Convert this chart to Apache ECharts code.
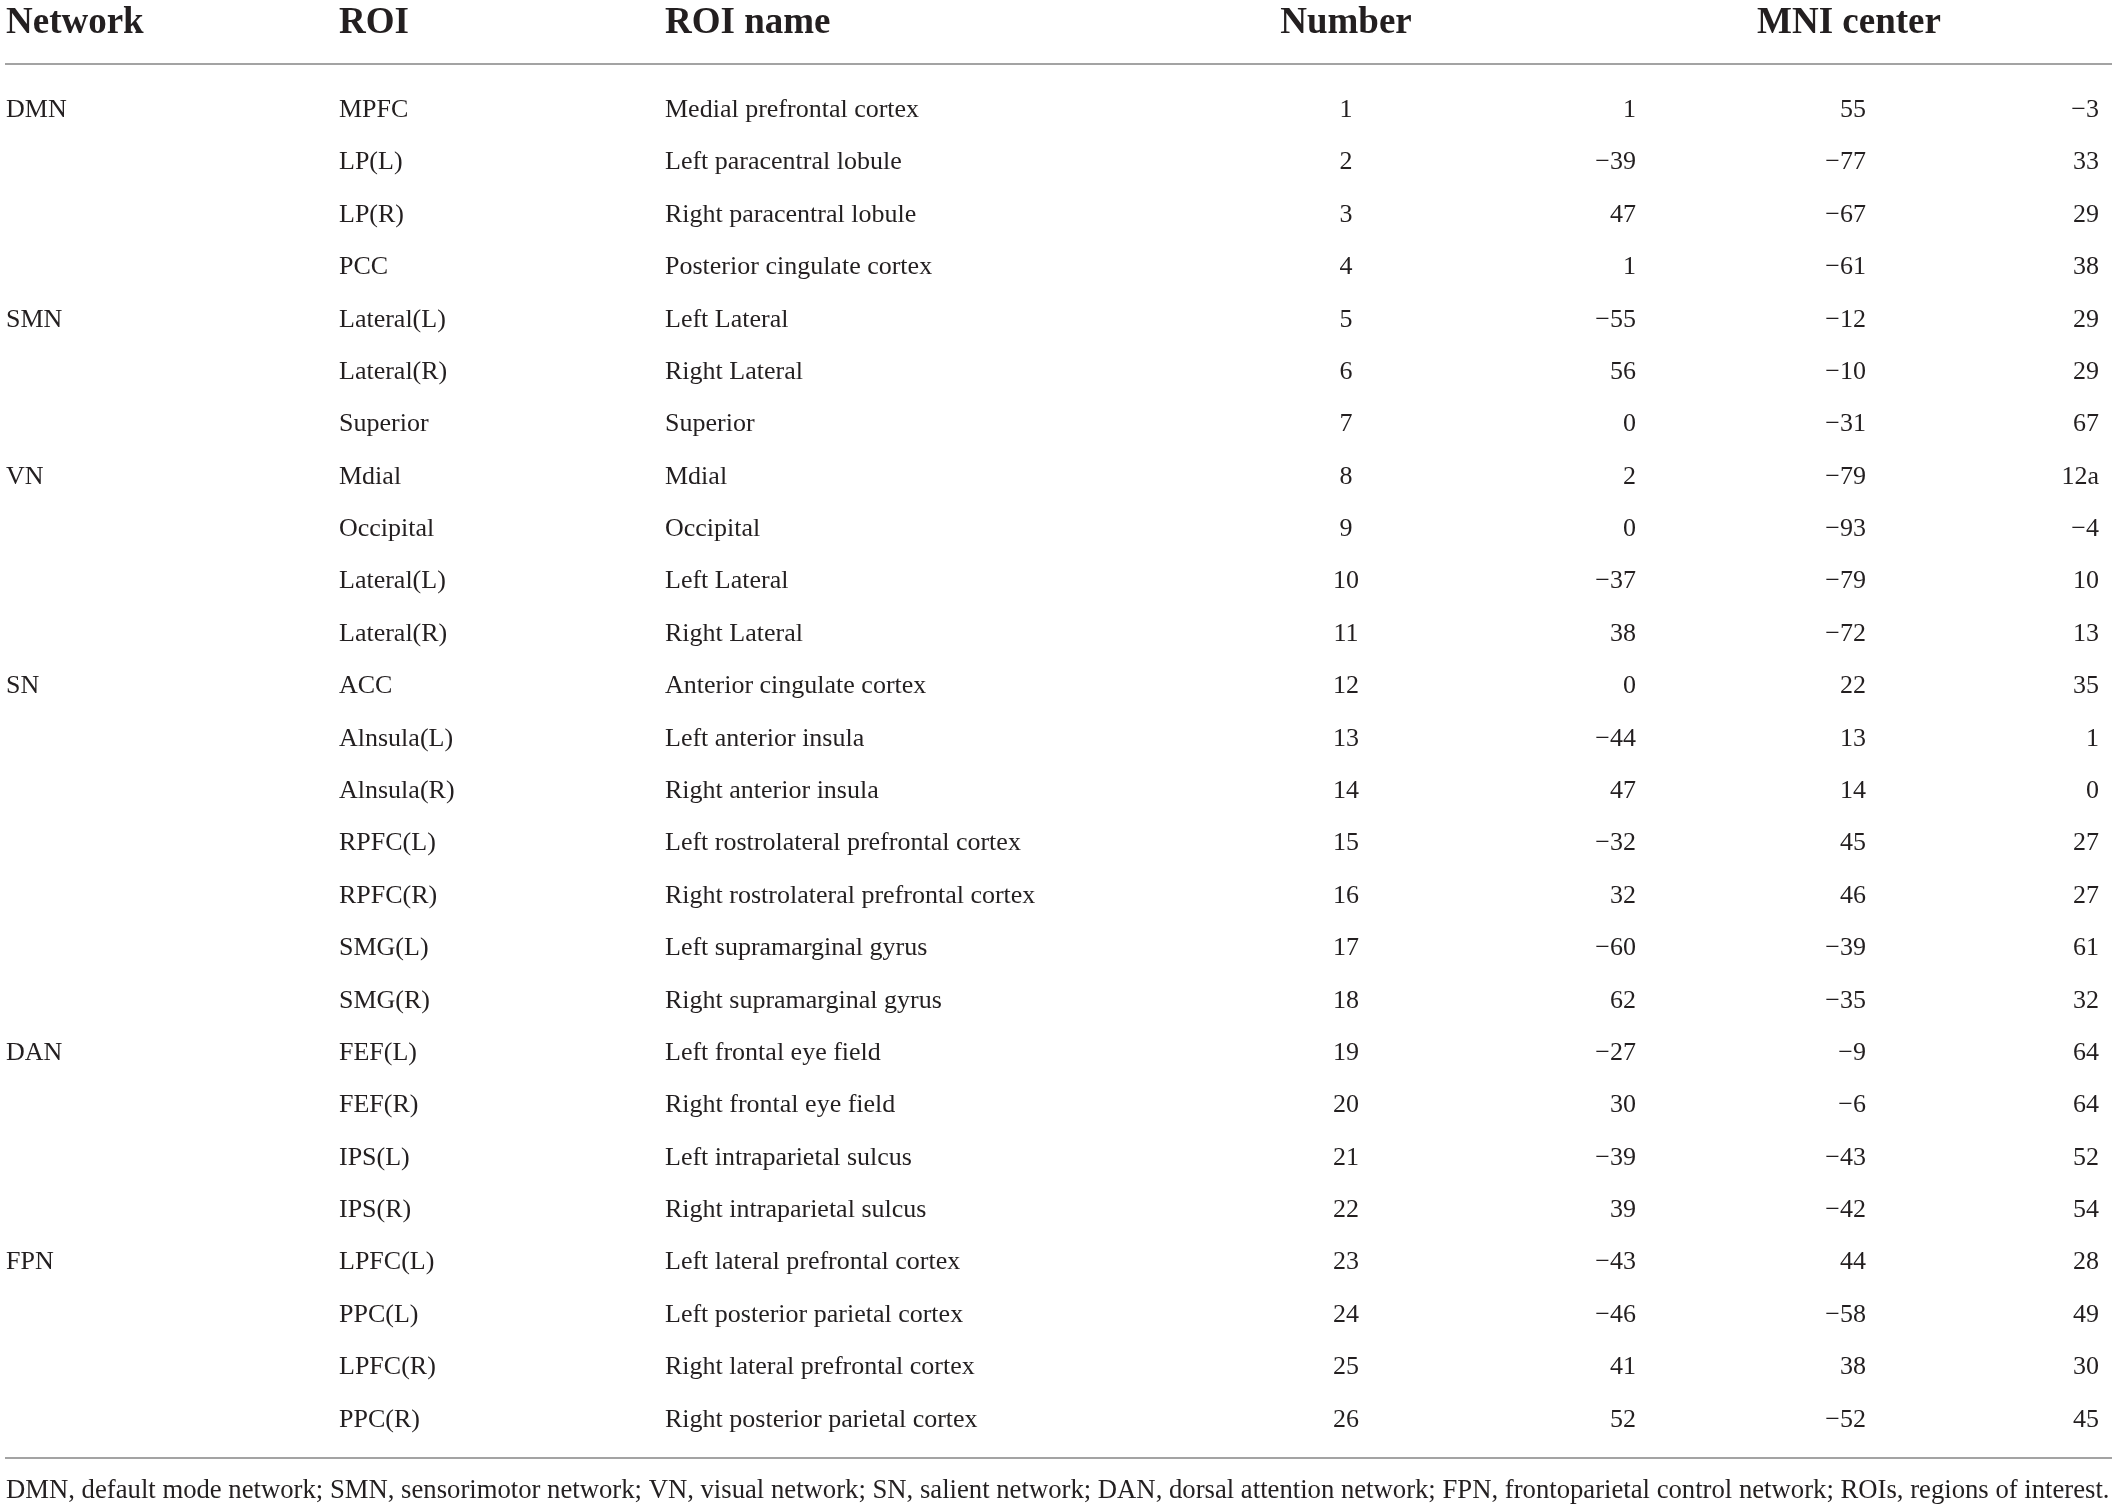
<!DOCTYPE html>
<html>
<head>
<meta charset="utf-8">
<title>ROI table</title>
<script src="https://cdn.jsdelivr.net/npm/echarts@6/dist/echarts.min.js"></script>
<style>
  html, body { margin: 0; padding: 0; background: #fff; }
  #chart { width: 2117px; height: 1511px; }
</style>
</head>
<body>
<div id="chart"></div>
<script>
// table contents
const headers = ['Network', 'ROI', 'ROI name', 'Number', 'MNI center'];

const networks = ['DMN', '', '', '', 'SMN', '', '', 'VN', '', '', '', 'SN', '', '', '', '', '', '',
  'DAN', '', '', '', 'FPN', '', '', ''];

const rois = ['MPFC', 'LP(L)', 'LP(R)', 'PCC', 'Lateral(L)', 'Lateral(R)', 'Superior', 'Mdial',
  'Occipital', 'Lateral(L)', 'Lateral(R)', 'ACC', 'Alnsula(L)', 'Alnsula(R)', 'RPFC(L)', 'RPFC(R)',
  'SMG(L)', 'SMG(R)', 'FEF(L)', 'FEF(R)', 'IPS(L)', 'IPS(R)', 'LPFC(L)', 'PPC(L)', 'LPFC(R)', 'PPC(R)'];

const roiNames = ['Medial prefrontal cortex', 'Left paracentral lobule', 'Right paracentral lobule',
  'Posterior cingulate cortex', 'Left Lateral', 'Right Lateral', 'Superior', 'Mdial', 'Occipital',
  'Left Lateral', 'Right Lateral', 'Anterior cingulate cortex', 'Left anterior insula',
  'Right anterior insula', 'Left rostrolateral prefrontal cortex', 'Right rostrolateral prefrontal cortex',
  'Left supramarginal gyrus', 'Right supramarginal gyrus', 'Left frontal eye field', 'Right frontal eye field',
  'Left intraparietal sulcus', 'Right intraparietal sulcus', 'Left lateral prefrontal cortex',
  'Left posterior parietal cortex', 'Right lateral prefrontal cortex', 'Right posterior parietal cortex'];

const numbers = [1, 2, 3, 4, 5, 6, 7, 8, 9, 10, 11, 12, 13, 14, 15, 16, 17, 18, 19, 20, 21, 22, 23, 24, 25, 26];

const mniX = [1, -39, 47, 1, -55, 56, 0, 2, 0, -37, 38, 0, -44, 47, -32, 32, -60, 62, -27, 30, -39, 39, -43, -46, 41, 52];
const mniY = [55, -77, -67, -61, -12, -10, -31, -79, -93, -79, -72, 22, 13, 14, 45, 46, -39, -35, -9, -6, -43, -42, 44, -58, 38, -52];
const mniZ = [-3, 33, 29, 38, 29, 29, 67, '12a', -4, 10, 13, 35, 1, 0, 27, 27, 61, 32, 64, 64, 52, 54, 28, 49, 30, 45];

const footnote = 'DMN, default mode network; SMN, sensorimotor network; VN, visual network; SN, salient network; ' +
  'DAN, dorsal attention network; FPN, frontoparietal control network; ROIs, regions of interest.';

// layout
const W = 2117;
const FONT = "'Liberation Serif', 'Times New Roman', serif";
const INK = '#231f20';
const RULE = '#a3a3a3';

// anchor x (on the 0..W axis) and alignment of each column
const columns = [
  { values: networks, x: 6, align: 'left' },
  { values: rois, x: 339, align: 'left' },
  { values: roiNames, x: 665, align: 'left' },
  { values: numbers, x: 1346, align: 'center' },
  { values: mniX, x: 1636, align: 'right' },
  { values: mniY, x: 1866, align: 'right' },
  { values: mniZ, x: 2099, align: 'right' },
];
const headerPos = [
  { x: 6, align: 'left' },
  { x: 339, align: 'left' },
  { x: 665, align: 'left' },
  { x: 1346, align: 'center' },
  { x: 1849, align: 'center' },
];

function fmt(v) {
  if (typeof v === 'number' && v < 0) return '\u2212' + (-v);
  return String(v);
}

const rowIdx = numbers.map((_, i) => String(i));

const series = columns.map(col => ({
  type: 'custom',
  coordinateSystem: 'cartesian2d',
  silent: true,
  data: col.values.map((v, i) => [col.x, i]),
  renderItem(params, api) {
    const p = api.coord([api.value(0), api.value(1)]);
    return {
      type: 'text',
      style: {
        text: fmt(col.values[params.dataIndex]),
        x: p[0],
        y: p[1],
        align: col.align,
        verticalAlign: 'middle',
        font: '26px ' + FONT,
        fill: INK,
      },
    };
  },
}));

const graphic = [];
headers.forEach((h, i) => {
  graphic.push({
    type: 'text',
    x: headerPos[i].x,
    y: 23,
    style: {
      text: h,
      align: headerPos[i].align,
      verticalAlign: 'middle',
      font: 'bold 37px ' + FONT,
      fill: INK,
    },
  });
});
graphic.push(
  { type: 'line', shape: { x1: 5, y1: 64, x2: 2112, y2: 64 }, style: { stroke: RULE, lineWidth: 2 } },
  { type: 'line', shape: { x1: 5, y1: 1458, x2: 2112, y2: 1458 }, style: { stroke: RULE, lineWidth: 2 } },
  {
    type: 'text',
    x: 6,
    y: 1491,
    style: { text: footnote, align: 'left', verticalAlign: 'middle', font: '26.7px ' + FONT, fill: INK },
  }
);

const chart = echarts.init(document.getElementById('chart'), null, { renderer: 'canvas' });
chart.setOption({
  animation: false,
  backgroundColor: '#ffffff',
  grid: { left: 0, right: 0, top: 84, bottom: 65 },
  xAxis: { type: 'value', min: 0, max: W, show: false },
  yAxis: { type: 'category', data: rowIdx, inverse: true, show: false },
  graphic: graphic,
  series: series,
});
</script>
</body>
</html>
